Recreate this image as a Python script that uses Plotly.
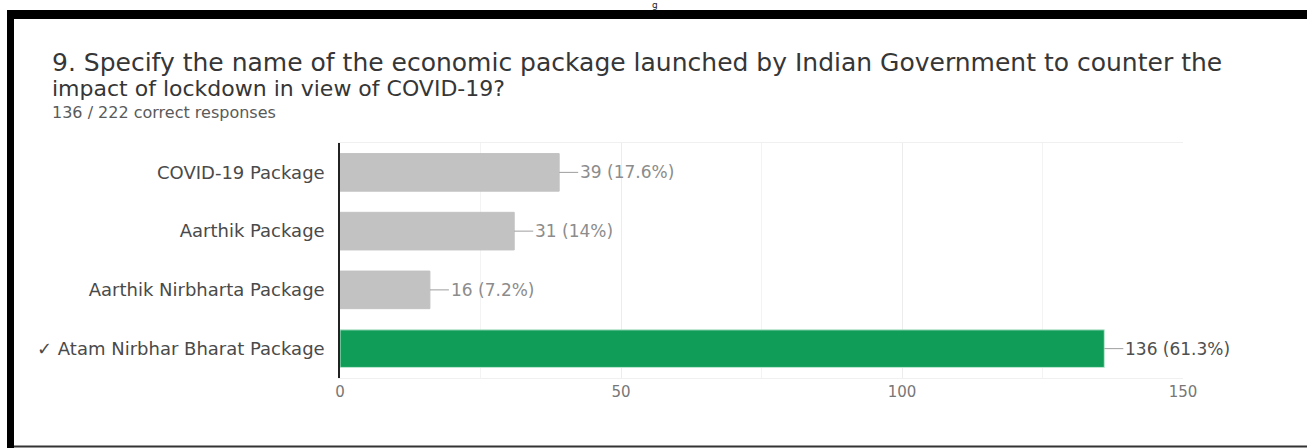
import plotly.graph_objects as go

# Survey question results
categories = [
    "COVID-19 Package",
    "Aarthik Package",
    "Aarthik Nirbharta Package",
    "✓ Atam Nirbhar Bharat Package",
]
counts = [39, 31, 16, 136]
pct_labels = ["17.6%", "14%", "7.2%", "61.3%"]
correct = [False, False, False, True]
x_tick_vals = [0, 50, 100, 150]

title_line1 = "9. Specify the name of the economic package launched by Indian Government to counter the"
title_line2 = "impact of lockdown in view of COVID-19?"
subtitle = "136 / 222 correct responses"

W, H = 1307, 448
ML, MR, MT, MB = 340, 124, 143, 70
PW = W - ML - MR
PH = H - MT - MB


def fx(px):
    return (px - ML) / PW


def fy(py):
    return 1 - (py - MT) / PH


GRAY = "#c2c2c2"
GREEN = "#0f9d58"
FONT = "DejaVu Sans"

bar_colors = [GREEN if c else GRAY for c in correct]
line_colors = ["#bfe8d2" if c else GRAY for c in correct]

fig = go.Figure(
    go.Bar(
        x=counts,
        y=categories,
        orientation="h",
        marker=dict(color=bar_colors, line=dict(color=line_colors, width=1)),
        width=0.64,
        hoverinfo="skip",
    )
)

annotations = []
for cat, v, p, c in zip(categories, counts, pct_labels, correct):
    annotations.append(
        dict(
            x=v, y=cat, xref="x", yref="y",
            text=f"{v} ({p})",
            showarrow=True, arrowhead=0, arrowwidth=1,
            arrowcolor="#9e9e9e", ax=19, ay=0,
            xanchor="left", yanchor="middle", standoff=0,
            font=dict(family=FONT, size=17, color="#4f4f4f" if c else "#8c8c8c"),
        )
    )

annotations += [
    dict(x=fx(50), y=fy(62), xref="paper", yref="paper", text=title_line1,
         showarrow=False, xanchor="left", yanchor="middle",
         font=dict(family=FONT, size=25, color="#363636")),
    dict(x=fx(50), y=fy(88.5), xref="paper", yref="paper", text=title_line2,
         showarrow=False, xanchor="left", yanchor="middle",
         font=dict(family=FONT, size=22, color="#363636")),
    dict(x=fx(50), y=fy(112.5), xref="paper", yref="paper", text=subtitle,
         showarrow=False, xanchor="left", yanchor="middle",
         font=dict(family=FONT, size=16, color="#5a5a5a")),
    dict(x=fx(655), y=fy(12), xref="paper", yref="paper", text="g",
         showarrow=False, xanchor="center", yanchor="bottom",
         font=dict(family=FONT, size=9, color="#222222")),
]

# Frame around the card
shapes = [
    dict(type="rect", xref="paper", yref="paper",
         x0=fx(7), x1=fx(W + 5), y0=fy(19), y1=fy(10),
         fillcolor="black", line=dict(width=0), layer="above"),
    dict(type="rect", xref="paper", yref="paper",
         x0=fx(7), x1=fx(14), y0=fy(H + 5), y1=fy(10),
         fillcolor="black", line=dict(width=0), layer="above"),
    dict(type="line", xref="paper", yref="paper",
         x0=fx(14), x1=fx(W + 5), y0=fy(446.5), y1=fy(446.5),
         line=dict(color="#333333", width=2), layer="above"),
]

fig.update_layout(
    width=W, height=H,
    margin=dict(l=ML, r=MR, t=MT, b=MB),
    paper_bgcolor="white", plot_bgcolor="white",
    showlegend=False,
    annotations=annotations,
    shapes=shapes,
    bargap=0.36,
    xaxis=dict(
        range=[0, 150], tickvals=x_tick_vals,
        showgrid=True, gridcolor="#ececec", gridwidth=1,
        minor=dict(dtick=25, showgrid=True, gridcolor="#f3f3f3"),
        zeroline=False, showline=True, mirror=True, linecolor="#f0f0f0",
        ticks="", tickfont=dict(family=FONT, size=15, color="#777777"),
        fixedrange=True,
    ),
    yaxis=dict(
        autorange="reversed",
        showgrid=False, zeroline=False,
        showline=True, linecolor="#222222", linewidth=1.5,
        ticks="outside", ticklen=10, tickcolor="rgba(0,0,0,0)",
        tickfont=dict(family=FONT, size=18, color="#4a4a4a"),
        fixedrange=True,
    ),
)

fig.write_html("out.html")
